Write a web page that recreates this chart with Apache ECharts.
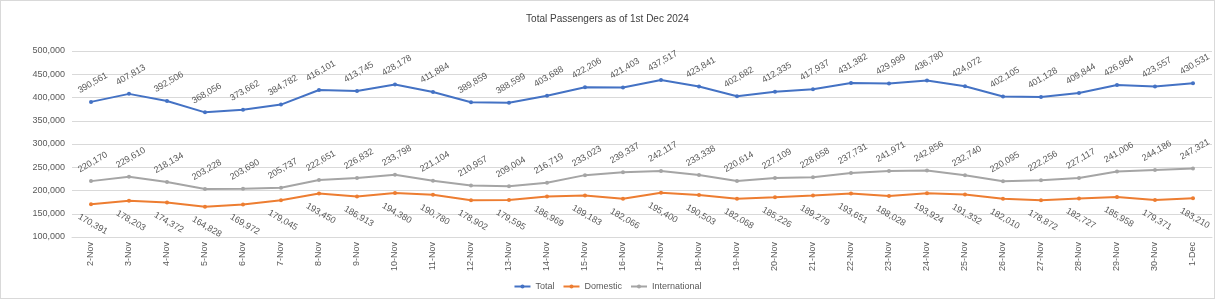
<!DOCTYPE html>
<html>
<head>
<meta charset="utf-8">
<script src="https://cdn.jsdelivr.net/npm/echarts@6/dist/echarts.min.js"></script>
<style>
  html, body { margin: 0; padding: 0; background: #fff; }
  #chart { width: 1213px; height: 297px; border: 1px solid #d9d9d9; }
</style>
</head>
<body>
<div id="chart"></div>
<script>
const days = ['2-Nov', '3-Nov', '4-Nov', '5-Nov', '6-Nov', '7-Nov', '8-Nov', '9-Nov', '10-Nov', '11-Nov',
  '12-Nov', '13-Nov', '14-Nov', '15-Nov', '16-Nov', '17-Nov', '18-Nov', '19-Nov', '20-Nov', '21-Nov',
  '22-Nov', '23-Nov', '24-Nov', '25-Nov', '26-Nov', '27-Nov', '28-Nov', '29-Nov', '30-Nov', '1-Dec']

const total = [390561, 407813, 392506, 368056, 373662, 384782, 416101, 413745, 428178, 411884,
  389859, 388599, 403688, 422206, 421403, 437517, 423841, 402682, 412335, 417937,
  431382, 429999, 436780, 424072, 402105, 401128, 409844, 426964, 423557, 430531]

const domestic = [170391, 178203, 174372, 164828, 169972, 179045, 193450, 186913, 194380, 190780,
  178902, 179595, 186969, 189183, 182066, 195400, 190503, 182068, 185226, 189279,
  193651, 188028, 193924, 191332, 182010, 178872, 182727, 185958, 179371, 183210]

const international = [220170, 229610, 218134, 203228, 203690, 205737, 222651, 226832, 233798, 221104,
  210957, 209004, 216719, 233023, 239337, 242117, 233338, 220614, 227109, 228658,
  237731, 241971, 242856, 232740, 220095, 222256, 227117, 241006, 244186, 247321]

const fmt = (v) => v.toLocaleString('en-US')
const font = 'Liberation Sans, sans-serif'

function lineSeries(name, data, color, below) {
  return {
    name,
    type: 'line',
    data,
    symbol: 'circle',
    symbolSize: 4,
    lineStyle: { color, width: 2 },
    itemStyle: { color },
    label: {
      show: true,
      position: below ? 'bottom' : 'top',
      distance: below ? 17 : 16,
      align: 'center',
      verticalAlign: 'middle',
      offset: [2, 0],
      rotate: below ? -30 : 30,
      color: '#595959',
      fontSize: 9,
      fontFamily: font,
      formatter: (p) => fmt(p.value)
    }
  }
}

const chart = echarts.init(document.getElementById('chart'))
chart.setOption({
  animation: false,
  title: {
    text: 'Total Passengers as of 1st Dec 2024',
    left: 'center',
    top: 8,
    textStyle: { fontSize: 10, fontWeight: 'normal', color: '#404040', fontFamily: font }
  },
  legend: {
    bottom: 2,
    left: 'center',
    itemWidth: 16,
    itemHeight: 5,
    itemGap: 8,
    textStyle: { fontSize: 9, color: '#595959', fontFamily: font }
  },
  grid: { left: 71, right: 2, top: 50, bottom: 61, containLabel: false },
  xAxis: {
    type: 'category',
    data: days,
    boundaryGap: true,
    axisLine: { lineStyle: { color: '#d9d9d9' } },
    axisTick: { show: false },
    axisLabel: { rotate: 90, interval: 0, fontSize: 9, color: '#595959', fontFamily: font, margin: 5 }
  },
  yAxis: {
    type: 'value',
    min: 100000,
    max: 500000,
    interval: 50000,
    axisLabel: { fontSize: 9, color: '#595959', fontFamily: font, margin: 7, formatter: fmt },
    splitLine: { lineStyle: { color: '#d9d9d9' } }
  },
  series: [
    lineSeries('Total', total, '#4472c4', false),
    lineSeries('Domestic', domestic, '#ed7d31', true),
    lineSeries('International', international, '#a5a5a5', false)
  ]
})
</script>
</body>
</html>
